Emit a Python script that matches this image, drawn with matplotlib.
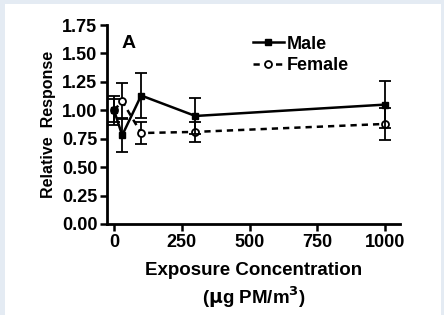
import matplotlib
matplotlib.use('Agg')
from matplotlib import pyplot as plt
from matplotlib.patches import Rectangle

plt.rcParams['font.family'] = ['Liberation Sans', 'DejaVu Sans']
plt.rcParams['font.weight'] = 'bold'

conc = [0, 30, 100, 300, 1000]
male = [1.00, 0.78, 1.13, 0.95, 1.05]
male_err = [0.13, 0.15, 0.20, 0.16, 0.21]
female = [1.00, 1.08, 0.80, 0.81, 0.88]
female_err = [0.10, 0.16, 0.10, 0.09, 0.14]

xticks = [0, 250, 500, 750, 1000]
yticks = [0.00, 0.25, 0.50, 0.75, 1.00, 1.25, 1.50, 1.75]

fig = plt.figure(figsize=(4.44, 3.15), dpi=100)
fig.patch.set_facecolor('#e4ebf3')
fig.patches.append(Rectangle((5 / 444, 0), 436 / 444, 311 / 315,
                             transform=fig.transFigure, facecolor='white',
                             edgecolor='none', zorder=-5))

ax = fig.add_axes([107 / 444, 1 - 224 / 315, 293 / 444, 199 / 315])
ax.set_facecolor('none')

f = ax.errorbar(conc, female, yerr=female_err, color='black', lw=1.8, ls=(0, (2.5, 2)),
                marker='o', ms=5, mfc='white', mew=1.3, capsize=4, elinewidth=1.3,
                capthick=1.3, zorder=2)
m = ax.errorbar(conc, male, yerr=male_err, color='black', lw=1.8, marker='s',
                ms=5, capsize=4, elinewidth=1.3, capthick=1.3, zorder=3)

ax.set_xlim(-26, 1055)
ax.set_ylim(0, 1.75)
ax.set_xticks(xticks)
ax.set_yticks(yticks)
ax.set_yticklabels([f'{v:.2f}' for v in yticks])
for s in ['top', 'right']:
    ax.spines[s].set_visible(False)
for s in ['left', 'bottom']:
    ax.spines[s].set_linewidth(2)
ax.tick_params(width=1.8, length=5, labelsize=13, pad=2)

ax.set_ylabel('Relative  Response', fontsize=11.5, fontweight='bold', labelpad=4)
ax.set_xlabel('Exposure Concentration\n($\\mathbf{\\mu}$g PM/m$^\\mathbf{3}$)',
              fontsize=13.5, fontweight='bold', linespacing=1.3, labelpad=8)

ax.text(0.05, 0.885, 'A', transform=ax.transAxes, fontsize=14, fontweight='bold')

leg = ax.legend([m.lines[0], f.lines[0]], ['Male', 'Female'],
                loc='upper left', bbox_to_anchor=(0.455, 1.01), frameon=False,
                fontsize=13, handlelength=1.7, handletextpad=0.15,
                borderpad=0.2, labelspacing=0.25)

plt.savefig('out.png', dpi=100)
